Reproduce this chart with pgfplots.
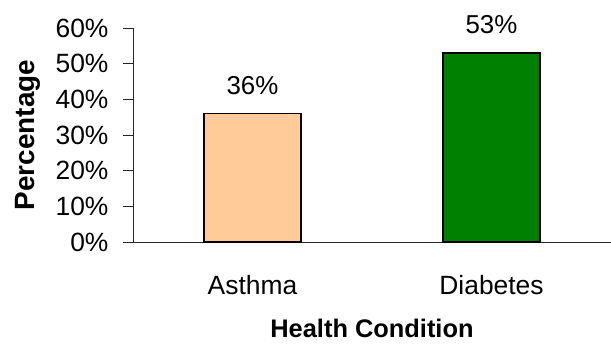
\documentclass[border=0pt]{standalone}
\usepackage{pgfplots}
\pgfplotsset{compat=1.18}
\usepackage{fontspec}
\setmainfont{Liberation Sans}
\definecolor{peach}{HTML}{FFCC99}
\definecolor{dgreen}{HTML}{008000}
\begin{document}
\begin{tikzpicture}
\begin{axis}[
  at={(0,0)}, anchor=south west,
  scale only axis, width=478bp, height=214bp,
  xmin=-0.5, xmax=1.5, ymin=0, ymax=60,
  axis x line*=bottom, axis y line*=left,
  axis line style={black!85, line width=0.8bp},
  ytick={0,10,...,60},
  yticklabel={\pgfmathprintnumber{\tick}\%},
  xtick={0,1}, xticklabels={Asthma,Diabetes},
  major x tick style={draw=none},
  extra x ticks={-0.5,0.5,1.5}, extra x tick labels={},
  extra x tick style={major tick length=8bp, tick style={black!85, line width=0.8bp}},
  tick align=outside, major tick length=10bp,
  tick style={black!85, line width=0.8bp},
  /pgf/number format/assume math mode=true,
  tick label style={font=\fontsize{26.5}{30}\selectfont},
  xticklabel style={anchor=base, yshift=-42bp},
  yticklabel style={anchor=east, xshift=-11bp},
  xlabel={Health Condition}, ylabel={Percentage},
  xlabel style={font=\fontsize{25.5}{30}\selectfont\bfseries, at={(axis description cs:0.5,-0.444)}, anchor=base},
  ylabel style={font=\fontsize{28}{32}\selectfont\bfseries, at={(axis description cs:-0.2200,0.5)}, anchor=center},
  ybar, bar shift=0pt, bar width=97bp,
  nodes near coords={\pgfmathprintnumber{\pgfplotspointmeta}\%},
  every node near coord/.append style={font=\fontsize{26}{30}\selectfont, anchor=base, inner sep=0pt, yshift=19bp, /pgf/number format/assume math mode=true},
  clip=false,
]
\addplot[fill=peach, draw=black, line width=1.3bp] coordinates {(0,36)};
\addplot[fill=dgreen, draw=black, line width=1.3bp] coordinates {(1,53)};
\end{axis}
\pgfresetboundingbox
\path (-133bp,-102bp) rectangle (478bp,242bp);
\end{tikzpicture}
\end{document}
